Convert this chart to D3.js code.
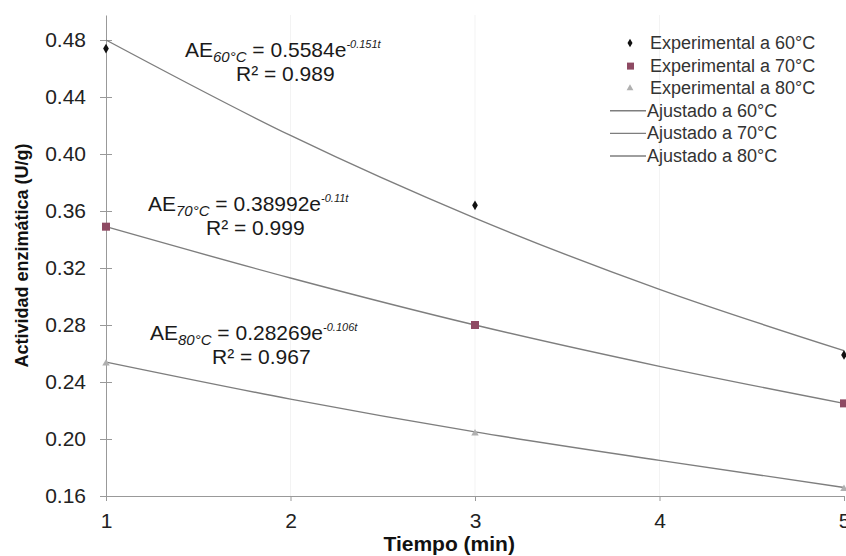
<!DOCTYPE html>
<meta charset="utf-8">
<style>
body { margin: 0; background: #fff; }
text { font-family: 'Liberation Sans', Arial, sans-serif; }
.axis text { font-size: 21px; fill: #222; }
.axis path, .axis line { stroke: #999; }
.axisLabel { font-weight: bold; fill: #111; }
.eq { font-size: 21px; fill: #1a1a1a; }
.legend text { font-size: 18px; fill: #333; }
.fit { fill: none; stroke: #7e7e7e; stroke-width: 1.4; }
</style>
<svg width="846" height="556"></svg>
<script src="https://d3js.org/d3.v7.min.js"></script>
<script>

// time (min)
var tiempo = [1, 3, 5];
var tiempoAjuste = [1, 2, 3, 4, 5];

// experimental activity (U/g)
var exp60 = [0.474, 0.364, 0.259];
var exp70 = [0.349, 0.280, 0.225];
var exp80 = [0.253, 0.204, 0.165];

// fitted curves
var fit60 = [0.480, 0.413, 0.355, 0.305, 0.262];
var fit70 = [0.349, 0.313, 0.280, 0.251, 0.225];
var fit80 = [0.254, 0.228, 0.205, 0.185, 0.166];

var yTicks = [0.16, 0.20, 0.24, 0.28, 0.32, 0.36, 0.40, 0.44, 0.48];
var xTicks = [1, 2, 3, 4, 5];

var legendLabels = ["Experimental a 60°C", "Experimental a 70°C", "Experimental a 80°C",
                    "Ajustado a 60°C", "Ajustado a 70°C", "Ajustado a 80°C"];

var svg = d3.select("svg"),
    margin = {top: 15, right: 2, bottom: 60, left: 106},
    width = +svg.attr("width") - margin.left - margin.right,
    height = +svg.attr("height") - margin.top - margin.bottom;

var x = d3.scaleLinear().domain([1, 5]).range([0, width]);
var y = d3.scaleLinear().domain([0.16, 0.16 + 0.04 * 481 / 57]).range([height, 0]);

var g = svg.append("g")
    .attr("transform", "translate(" + margin.left + "," + margin.top + ")");

// faint vertical grid
g.append("g")
  .selectAll("line")
  .data([2, 3, 4])
  .enter().append("line")
    .attr("x1", function(d) { return x(d); })
    .attr("x2", function(d) { return x(d); })
    .attr("y1", 0).attr("y2", height)
    .attr("stroke", "#f3f3f3");

// y axis, ticks cross the line
var yAxis = g.append("g")
    .attr("class", "axis axis--y")
    .call(d3.axisLeft(y).tickValues(yTicks).tickFormat(d3.format(".2f")).tickSizeInner(6).tickSizeOuter(0));
yAxis.selectAll(".tick line").attr("x2", 6).attr("x1", -6);
yAxis.selectAll(".tick text").attr("x", -20);

var xAxis = g.append("g")
    .attr("class", "axis axis--x")
    .attr("transform", "translate(0," + height + ")")
    .call(d3.axisBottom(x).tickValues(xTicks).tickFormat(d3.format("d")).tickSizeInner(5).tickSizeOuter(0));
xAxis.selectAll(".tick text").attr("y", 17);

// axis labels
g.append("text")
    .attr("class", "axisLabel")
    .attr("font-size", 18)
    .attr("transform", "rotate(-90)")
    .attr("x", -(height / 2))
    .attr("y", -78)
    .attr("text-anchor", "middle")
    .text("Actividad  enzimática (U/g)");

g.append("text")
    .attr("class", "axisLabel")
    .attr("font-size", 21)
    .attr("x", x(2.86))
    .attr("y", height + 55)
    .attr("text-anchor", "middle")
    .text("Tiempo (min)");

// fitted lines
var line = d3.line()
    .x(function(d, i) { return x(tiempoAjuste[i]); })
    .y(function(d) { return y(d); })
    .curve(d3.curveMonotoneX);

[fit60, fit70, fit80].forEach(function(s) {
  g.append("path").attr("class", "fit").attr("d", line(s));
});

// experimental points
g.selectAll(".p60").data(exp60).enter().append("path")
    .attr("transform", function(d, i) { return "translate(" + x(tiempo[i]) + "," + y(d) + ")"; })
    .attr("d", d3.symbol().type(d3.symbolDiamond).size(28))
    .attr("fill", "#111");

g.selectAll(".p70").data(exp70).enter().append("rect")
    .attr("x", function(d, i) { return x(tiempo[i]) - 4; })
    .attr("y", function(d) { return y(d) - 4; })
    .attr("width", 8).attr("height", 8)
    .attr("fill", "#8e4a63");

g.selectAll(".p80").data(exp80).enter().append("path")
    .attr("transform", function(d, i) { return "translate(" + x(tiempo[i]) + "," + y(d) + ")"; })
    .attr("d", d3.symbol().type(d3.symbolTriangle).size(24))
    .attr("fill", "#b0b0b0");

// equations
function equation(xp, yp, sub, coef, expo, r2x, r2) {
  var t = svg.append("text").attr("class", "eq").attr("x", xp).attr("y", yp);
  t.append("tspan").text("AE");
  t.append("tspan").attr("dy", 5).attr("font-size", 15).attr("font-style", "italic").text(sub);
  t.append("tspan").attr("dy", -5).text(" = " + coef + "e");
  t.append("tspan").attr("dy", -9).attr("font-size", 11).attr("font-style", "italic").text(expo);
  svg.append("text").attr("class", "eq").attr("x", r2x).attr("y", yp + 24).text("R² = " + r2);
}
equation(185, 57, "60°C", "0.5584", "-0.151t", 236, "0.989");
equation(148, 211, "70°C", "0.38992", "-0.11t", 206, "0.999");
equation(150, 340, "80°C", "0.28269", "-0.106t", 212, "0.967");

// legend
var legend = svg.append("g").attr("class", "legend");
var rows = legend.selectAll("g").data(legendLabels).enter().append("g")
    .attr("transform", function(d, i) { return "translate(0," + (43 + i * 22.6) + ")"; });

rows.append("text")
    .attr("x", function(d, i) { return i < 3 ? 650 : 647; })
    .attr("y", 6)
    .text(function(d) { return d; });

rows.filter(function(d, i) { return i >= 3; }).append("line")
    .attr("x1", 610).attr("x2", 646)
    .attr("stroke", "#7e7e7e").attr("stroke-width", 1.4);

rows.filter(function(d, i) { return i == 0; }).append("path")
    .attr("transform", "translate(630,0)")
    .attr("d", d3.symbol().type(d3.symbolDiamond).size(22))
    .attr("fill", "#111");
rows.filter(function(d, i) { return i == 1; }).append("rect")
    .attr("x", 627).attr("y", -3).attr("width", 7).attr("height", 7)
    .attr("fill", "#8e4a63");
rows.filter(function(d, i) { return i == 2; }).append("path")
    .attr("transform", "translate(630,0)")
    .attr("d", d3.symbol().type(d3.symbolTriangle).size(20))
    .attr("fill", "#b0b0b0");

</script>
